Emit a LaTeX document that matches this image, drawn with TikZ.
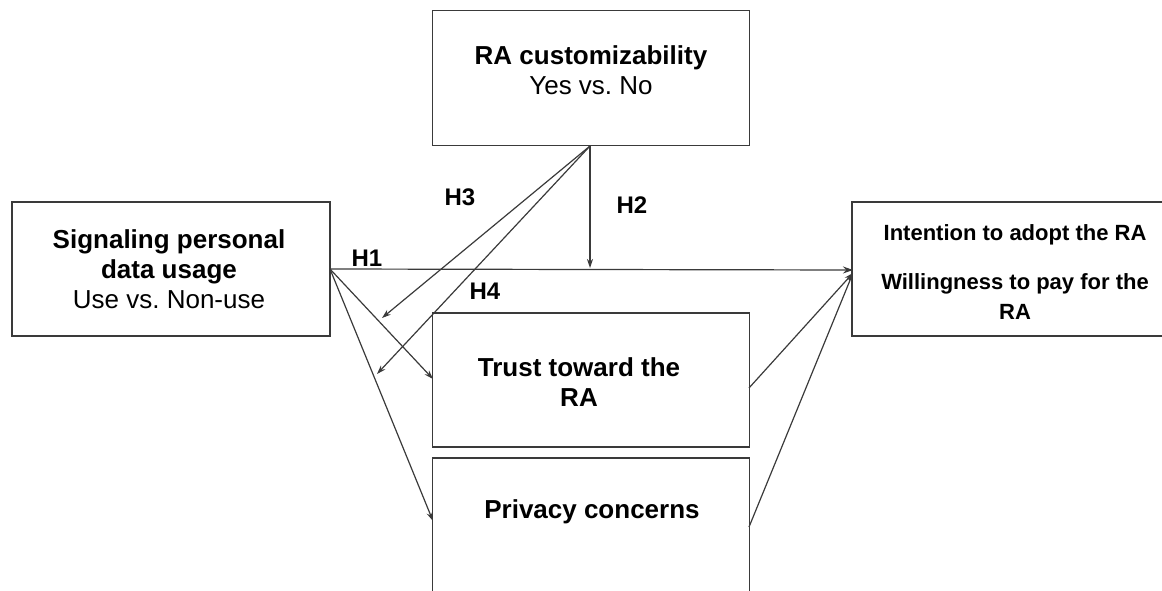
\documentclass[tikz,border=0pt]{standalone}
\usepackage{fontspec}
\setmainfont{Liberation Sans}
\usetikzlibrary{arrows.meta,calc}
\definecolor{edge}{HTML}{3A3A3A}
\frenchspacing
\tikzset{
  box/.style={draw=edge, line width=1.3pt, rectangle, inner sep=0pt, fill=white},
  lbl/.style={align=center, inner sep=0pt, font=\fontsize{26}{30}\selectfont},
  hyp/.style={inner sep=0pt, font=\fontsize{24}{28}\selectfont\bfseries},
  link/.style={draw=edge, line width=1.2pt, -{Stealth[length=10pt,width=7pt]}},
  link2/.style={draw=edge, line width=1.2pt, -{Stealth[length=9pt,width=6pt]}}
}
\begin{document}
\begin{tikzpicture}[x=1pt,y=-1pt]
  \useasboundingbox (0,0) rectangle (1162,591);
  \clip (0,0) rectangle (1162,591);

  % boxes
  \node[box, minimum width=317pt, minimum height=135pt] (ra)    at (591,78)   {};
  \node[box, minimum width=318pt, minimum height=134pt] (sig)   at (171,269)  {};
  \node[box, minimum width=312pt, minimum height=134pt] (int)   at (1008,269) {};
  \node[box, minimum width=317pt, minimum height=134pt] (trust) at (591,380)  {};
  \node[box, minimum width=317pt, minimum height=150pt] (priv)  at (591,533)  {};

  % box texts
  \node[lbl] (ratxt) at (591,70) {\textbf{RA customizability}\\Yes vs. No};
  \node[lbl] (sigtxt) at (169,269) {\textbf{Signaling personal}\\\textbf{data usage}\\Use vs. Non-use};
  \node[lbl, font=\fontsize{22}{26}\selectfont\bfseries] (inttxt1) at (1015,235) {Intention to adopt the RA};
  \node[lbl, font=\fontsize{22}{30}\selectfont\bfseries] (inttxt2) at (1015,297) {Willingness to pay for the\\RA};
  \node[lbl] (trusttxt) at (579,382) {\textbf{Trust toward the}\\\textbf{RA}};
  \node[lbl] (privtxt) at (592,512) {\textbf{Privacy concerns}};

  % connector end points
  \coordinate (apex)  at (590,146);
  \coordinate (h2end) at (590,268);
  \coordinate (m1)    at (382,318);
  \coordinate (m2)    at (377,374);
  \coordinate (sigout) at (330,269);
  \coordinate (trustin) at (433,379);
  \coordinate (privin)  at (433,521);
  \coordinate (trustout) at (749,388);
  \coordinate (privout)  at (749,527);
  \coordinate (intin)    at (853,273);
  \coordinate (intin1)   at (853,270);

  % connectors
  \draw[link] (sigout) -- (intin1);
  \draw[link2] (apex) -- (h2end);
  \draw[link2] (apex) -- (m1);
  \draw[link2] (apex) -- (m2);
  \draw[link2] (sigout) -- (trustin);
  \draw[link2] (sigout) -- (privin);
  \draw[link2] (trustout) -- (intin);
  \draw[link2] (privout) -- (intin);

  % hypothesis labels
  \node[hyp] (h1) at (367,258) {H1};
  \node[hyp] (h2) at (632,205) {H2};
  \node[hyp] (h3) at (460,197) {H3};
  \node[hyp] (h4) at (485,291) {H4};
\end{tikzpicture}
\end{document}
